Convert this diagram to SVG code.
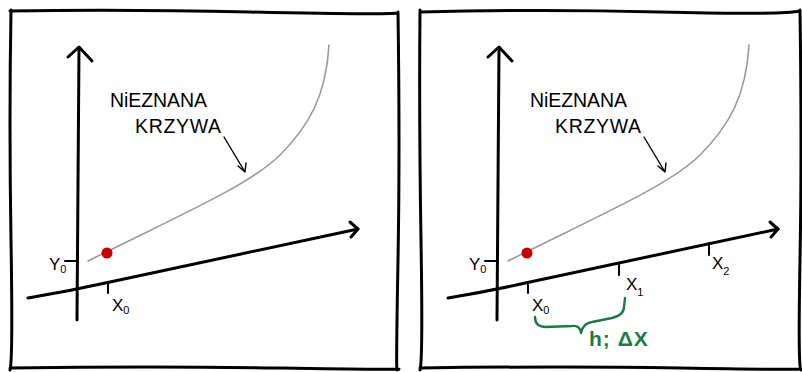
<svg xmlns="http://www.w3.org/2000/svg" width="802" height="372" viewBox="0 0 802 372">
<style>
.frame{fill:none;stroke:#000;stroke-width:3;stroke-linecap:round;stroke-linejoin:round}
.axis{fill:none;stroke:#000;stroke-width:3;stroke-linecap:round;stroke-linejoin:round}
.tick{fill:none;stroke:#000;stroke-width:2;stroke-linecap:round}
.curve{fill:none;stroke:#9a9a9a;stroke-width:1.6;stroke-linecap:round}
.pointer{fill:none;stroke:#000;stroke-width:1.4;stroke-linecap:round;stroke-linejoin:round}
.lbl{font-family:"Liberation Sans",Arial,sans-serif;fill:#000}
.big{font-size:19.5px}
.sub{font-size:11px}
.brace{fill:none;stroke:#1e7a45;stroke-width:2.4;stroke-linecap:round;stroke-linejoin:round}
.green{font-family:"Liberation Sans",Arial,sans-serif;font-size:21px;font-weight:bold;fill:#1e7a45;letter-spacing:1px}
.dot{fill:#c40000}
</style>
<g id="panel-left">
  <path class="frame" d="M10,11 Q120,9 250,12 T398,13 M398,12 Q400,150 398,260 T397,370 M11,10 Q9,120 11,240 T10,370 M10,368 Q150,366 280,368 T398,369"/>
  <g id="axes-left">
    <path class="axis" d="M77,320 Q78,190 79,48"/>
    <path class="axis" d="M68,57 L79,47 L92,61"/>
    <path class="axis" d="M28,298 Q70,291 110,282 L358,229"/>
    <path class="axis" d="M350,222 L358,229 L351,237"/>
  </g>
  <path class="tick" d="M108,283 L108,293"/>
  <path class="tick" d="M65,261 L77,261"/>
  <text class="lbl" x="112" y="311" font-size="17">X<tspan class="sub" dy="3">0</tspan></text>
  <text class="lbl" x="49" y="270" font-size="17">Y<tspan class="sub" dy="3">0</tspan></text>
  <path class="curve" d="M88,261 C180,215 250,185 280,155 C310,125 326,95 329,45"/>
  <circle class="dot" cx="107" cy="253" r="5.5"/>
  <text class="lbl big" x="110" y="107" textLength="97">NiEZNANA</text>
  <text class="lbl big" x="135" y="133" textLength="86">KRZYWA</text>
  <path class="pointer" d="M224,137 L245,172 M238,166 L245,172 L246,163"/>
</g>
<g id="panel-right">
  <path class="frame" d="M421,12 Q540,9 660,12 T800,11 M800,10 Q802,150 800,260 T801,370 M420,10 Q419,120 421,240 T420,370 M420,368 Q560,366 680,368 T800,369"/>
  <g id="axes-right">
    <path class="axis" d="M497,320 Q498,190 499,48"/>
    <path class="axis" d="M488,57 L499,47 L512,61"/>
    <path class="axis" d="M448,298 Q490,291 530,282 L778,229"/>
    <path class="axis" d="M770,222 L778,229 L771,237"/>
  </g>
  <path class="tick" d="M528,283 L528,293"/>
  <path class="tick" d="M619,263 L619,275"/>
  <path class="tick" d="M709,243 L709,255"/>
  <path class="tick" d="M485,261 L497,261"/>
  <text class="lbl" x="532" y="311" font-size="17">X<tspan class="sub" dy="3">0</tspan></text>
  <text class="lbl" x="626" y="290" font-size="17">X<tspan class="sub" dy="6">1</tspan></text>
  <text class="lbl" x="712" y="269" font-size="17">X<tspan class="sub" dy="6">2</tspan></text>
  <text class="lbl" x="469" y="270" font-size="17">Y<tspan class="sub" dy="3">0</tspan></text>
  <path class="curve" d="M508,261 C600,215 670,185 700,155 C730,125 746,95 749,45"/>
  <circle class="dot" cx="527" cy="253" r="5.5"/>
  <text class="lbl big" x="530" y="107" textLength="97">NiEZNANA</text>
  <text class="lbl big" x="555" y="133" textLength="86">KRZYWA</text>
  <path class="pointer" d="M644,137 L665,172 M658,166 L665,172 L666,163"/>
  <g id="brace">
    <path class="brace" d="M535,317 Q535,327 546,327 L572,326 Q580,325 581,333 Q583,323 592,322 L612,318 Q624,315 624,307 L625,298"/>
    <text class="green" x="589" y="346">h; ΔX</text>
  </g>
</g>
</svg>
